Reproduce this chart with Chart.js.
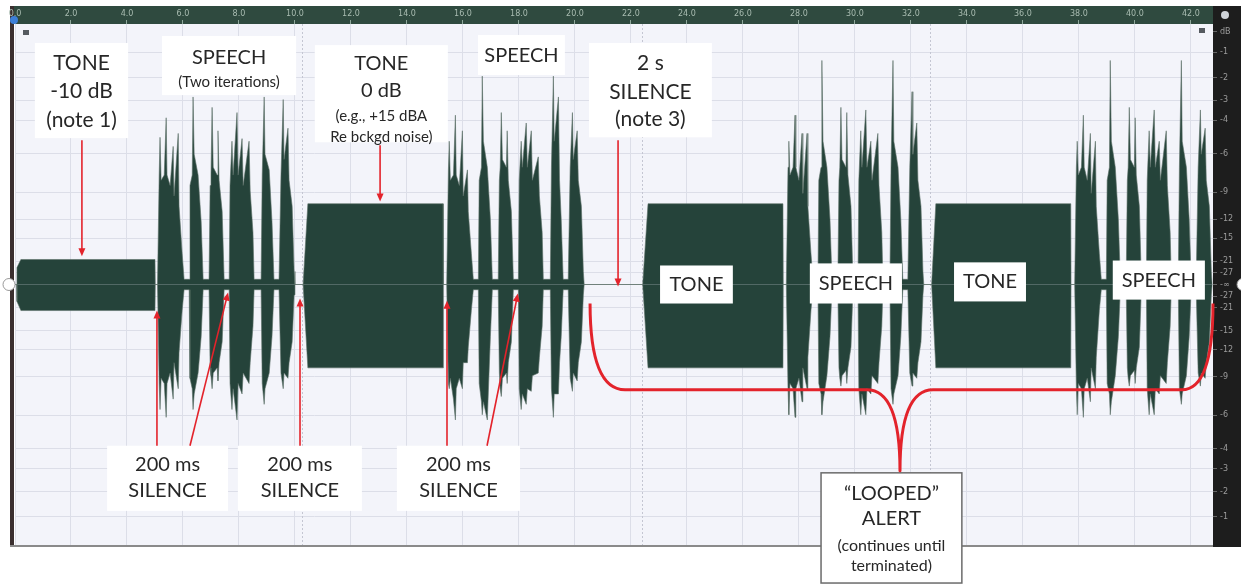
<!DOCTYPE html>
<html>
<head>
<meta charset="utf-8">
<script src="https://cdn.jsdelivr.net/npm/chart.js@4.4.1/dist/chart.umd.min.js"></script>
<style>
  html, body { margin: 0; padding: 0; background: #fff; }
  #wrap { width: 1241px; height: 587px; }
</style>
</head>
<body>
<div id="wrap"><canvas id="waveChart" width="1241" height="587"></canvas></div>
<script>
// time ruler (seconds)
const timeTicks = [0, 2, 4, 6, 8, 10, 12, 14, 16, 18, 20, 22, 24, 26, 28, 30, 32, 34, 36, 38, 40, 42];
// dB meter labels on the right
const dbTicks = [-1, -2, -3, -4, -6, -9, -12, -15, -21, -27];

// tones: ramp start, full level, end (s) and level above / below centre (0..1)
const toneStart  = [0.07, 10.29, 22.43, 32.75];
const toneFull   = [0.21, 10.46, 22.61, 32.89];
const toneEnd    = [5.00, 15.29, 27.43, 37.71];
const toneOnset  = [0.065, 0, 0, 0];
const toneTop    = [0.096, 0.31, 0.31, 0.31];
const toneBottom = [0.10, 0.32, 0.32, 0.32];

// speech bursts: [time s, envelope above centre, envelope below centre]
const speech1 = [
  [5.09,0,0],[5.15,0.42,0.38],[5.18,0.565,0.48],[5.22,0.40,0.36],[5.33,0.42,0.38],[5.40,0.64,0.51],
  [5.43,0.42,0.38],[5.54,0.38,0.34],[5.65,0.53,0.44],[5.68,0.34,0.30],[5.83,0.58,0.40],[5.86,0.30,0.26],
  [5.97,0.12,0.10],[6.04,0.02,0.02],[6.22,0.02,0.02],[6.25,0.38,0.36],[6.33,0.42,0.40],[6.36,0.72,0.48],
  [6.40,0.50,0.42],[6.54,0.42,0.34],[6.65,0.24,0.20],[6.72,0.02,0.02],[6.93,0.02,0.02],[6.97,0.38,0.32],
  [7.00,0.42,0.35],[7.04,0.68,0.40],[7.08,0.45,0.34],[7.22,0.42,0.32],[7.25,0.59,0.37],[7.29,0.40,0.30],
  [7.40,0.28,0.22],[7.47,0.02,0.02],[7.65,0.02,0.02],[7.68,0.38,0.38],[7.75,0.55,0.48],[7.79,0.42,0.40],
  [7.93,0.66,0.52],[7.97,0.42,0.38],[8.11,0.56,0.42],[8.15,0.38,0.34],[8.36,0.55,0.38],[8.40,0.36,0.30],
  [8.50,0.20,0.16],[8.54,0.02,0.02],[8.79,0.02,0.02],[8.83,0.42,0.38],[8.90,0.72,0.46],[8.93,0.50,0.40],
  [9.08,0.44,0.34],[9.18,0.24,0.20],[9.25,0.02,0.02],[9.43,0.02,0.02],[9.50,0.42,0.34],[9.58,0.71,0.40],
  [9.61,0.48,0.34],[9.75,0.60,0.36],[9.79,0.40,0.30],[9.90,0.30,0.22],[9.97,0.05,0.04],[10.00,0,0]
];
const speech2 = [
  [15.42,0,0],[15.48,0.44,0.38],[15.51,0.55,0.40],[15.55,0.40,0.36],[15.66,0.42,0.44],[15.73,0.65,0.52],
  [15.76,0.42,0.40],[15.87,0.38,0.36],[15.98,0.59,0.40],[16.01,0.34,0.30],[16.16,0.44,0.30],[16.19,0.28,0.24],
  [16.30,0.12,0.10],[16.37,0.02,0.02],[16.55,0.02,0.02],[16.58,0.40,0.38],[16.66,0.45,0.45],[16.69,0.80,0.50],
  [16.73,0.55,0.45],[16.87,0.45,0.52],[16.98,0.25,0.20],[17.05,0.02,0.02],[17.26,0.02,0.02],[17.30,0.40,0.34],
  [17.33,0.45,0.40],[17.37,0.66,0.43],[17.41,0.48,0.36],[17.55,0.45,0.34],[17.58,0.59,0.38],[17.62,0.40,0.30],
  [17.73,0.28,0.22],[17.80,0.02,0.02],[17.98,0.02,0.02],[18.01,0.40,0.40],[18.08,0.55,0.48],[18.12,0.45,0.42],
  [18.26,0.62,0.46],[18.30,0.45,0.40],[18.44,0.59,0.41],[18.48,0.40,0.35],[18.69,0.49,0.34],[18.73,0.34,0.28],
  [18.83,0.20,0.16],[18.87,0.02,0.02],[19.12,0.02,0.02],[19.16,0.45,0.40],[19.23,0.80,0.51],[19.26,0.55,0.42],
  [19.41,0.72,0.42],[19.45,0.40,0.30],[19.51,0.25,0.20],[19.58,0.02,0.02],[19.76,0.02,0.02],[19.83,0.45,0.36],
  [19.91,0.66,0.41],[19.94,0.48,0.34],[20.08,0.59,0.37],[20.12,0.40,0.30],[20.23,0.30,0.22],[20.30,0.05,0.04],
  [20.33,0,0]
];
const speech3 = [
  [27.55,0,0],[27.61,0.45,0.40],[27.64,0.55,0.50],[27.68,0.42,0.38],[27.79,0.45,0.40],[27.86,0.65,0.51],
  [27.89,0.45,0.40],[28.00,0.40,0.36],[28.11,0.58,0.45],[28.14,0.35,0.32],[28.29,0.58,0.40],[28.32,0.30,0.28],
  [28.43,0.12,0.10],[28.50,0.02,0.02],[28.68,0.02,0.02],[28.71,0.40,0.38],[28.79,0.45,0.42],[28.82,0.86,0.50],
  [28.86,0.55,0.45],[29.00,0.45,0.35],[29.11,0.25,0.20],[29.18,0.02,0.02],[29.39,0.02,0.02],[29.43,0.40,0.32],
  [29.46,0.45,0.36],[29.50,0.68,0.39],[29.54,0.48,0.35],[29.68,0.45,0.33],[29.71,0.66,0.38],[29.75,0.42,0.32],
  [29.86,0.30,0.24],[29.93,0.02,0.02],[30.11,0.02,0.02],[30.14,0.40,0.40],[30.21,0.59,0.50],[30.25,0.45,0.42],
  [30.39,0.67,0.50],[30.43,0.45,0.40],[30.57,0.55,0.42],[30.61,0.40,0.35],[30.82,0.58,0.38],[30.86,0.38,0.30],
  [30.96,0.20,0.16],[31.00,0.02,0.02],[31.25,0.02,0.02],[31.29,0.45,0.40],[31.36,0.86,0.46],[31.39,0.55,0.42],
  [31.54,0.45,0.35],[31.64,0.25,0.20],[31.71,0.02,0.02],[31.89,0.02,0.02],[31.96,0.45,0.34],[32.04,0.74,0.39],
  [32.07,0.50,0.34],[32.21,0.62,0.36],[32.25,0.40,0.30],[32.36,0.30,0.22],[32.43,0.05,0.04],[32.46,0,0]
];
const speech4 = [
  [37.85,0,0],[37.91,0.45,0.40],[37.94,0.55,0.50],[37.98,0.42,0.38],[38.09,0.45,0.40],[38.16,0.65,0.51],
  [38.19,0.45,0.40],[38.30,0.40,0.36],[38.41,0.58,0.45],[38.44,0.35,0.32],[38.59,0.55,0.40],[38.62,0.30,0.28],
  [38.73,0.12,0.10],[38.80,0.02,0.02],[38.98,0.02,0.02],[39.01,0.40,0.38],[39.09,0.45,0.42],[39.12,0.86,0.50],
  [39.16,0.55,0.45],[39.30,0.45,0.35],[39.41,0.25,0.20],[39.48,0.02,0.02],[39.69,0.02,0.02],[39.73,0.40,0.32],
  [39.76,0.45,0.36],[39.80,0.68,0.39],[39.84,0.48,0.35],[39.98,0.45,0.33],[40.01,0.64,0.38],[40.05,0.42,0.32],
  [40.16,0.30,0.24],[40.23,0.02,0.02],[40.41,0.02,0.02],[40.44,0.40,0.40],[40.51,0.59,0.50],[40.55,0.45,0.42],
  [40.69,0.67,0.50],[40.73,0.45,0.40],[40.87,0.55,0.42],[40.91,0.40,0.35],[41.12,0.59,0.38],[41.16,0.38,0.30],
  [41.26,0.20,0.16],[41.30,0.02,0.02],[41.55,0.02,0.02],[41.59,0.45,0.40],[41.66,0.86,0.46],[41.69,0.55,0.42],
  [41.84,0.45,0.35],[41.94,0.25,0.20],[42.01,0.02,0.02],[42.19,0.02,0.02],[42.26,0.45,0.34],[42.34,0.67,0.39],
  [42.37,0.50,0.34],[42.51,0.60,0.36],[42.55,0.40,0.30],[42.66,0.30,0.22],[42.73,0.05,0.04],[42.76,0,0]
];
const speechBursts = [speech1, speech2, speech3, speech4];

// call-out boxes: time span, amplitude span, lines [text, amplitude, font size]
const callouts = [
  { t: [0.71, 4.04],   a: [0.927, 0.562], lines: [['TONE', 0.85, 21], ['-10 dB', 0.742, 21], ['(note 1)', 0.631, 21]] },
  { t: [5.25, 10.04],  a: [0.954, 0.727], lines: [['SPEECH', 0.873, 20], ['(Two iterations)', 0.777, 15]] },
  { t: [10.71, 15.46], a: [0.919, 0.546], lines: [['TONE', 0.85, 20], ['0 dB', 0.746, 20], ['(e.g., +15 dBA', 0.646, 15], ['Re bckgd noise)', 0.565, 15]] },
  { t: [16.54, 19.64], a: [0.958, 0.804], lines: [['SPEECH', 0.877, 20]] },
  { t: [20.50, 24.89], a: [0.927, 0.565], lines: [['2 s', 0.85, 21], ['SILENCE', 0.738, 21], ['(note 3)', 0.635, 21]] },
  { t: [23.04, 25.64], a: [0.073, -0.073], lines: [['TONE', 0.0, 20]] },
  { t: [28.39, 31.68], a: [0.081, -0.073], lines: [['SPEECH', 0.004, 20]] },
  { t: [33.54, 36.11], a: [0.085, -0.065], lines: [['TONE', 0.01, 20]] },
  { t: [39.21, 42.50], a: [0.092, -0.058], lines: [['SPEECH', 0.017, 20]] },
  { t: [3.29, 7.61],   a: [-0.619, -0.869], lines: [['200 ms', -0.692, 20], ['SILENCE', -0.792, 20]] },
  { t: [7.96, 12.39],  a: [-0.619, -0.869], lines: [['200 ms', -0.692, 20], ['SILENCE', -0.792, 20]] },
  { t: [13.64, 18.04], a: [-0.619, -0.869], lines: [['200 ms', -0.692, 20], ['SILENCE', -0.792, 20]] },
  { t: [28.79, 33.82], a: [-0.723, -1.146], border: true,
    lines: [['\u201CLOOPED\u201D', -0.804, 20], ['ALERT', -0.9, 20], ['(continues until', -1.004, 16], ['terminated)', -1.081, 16]] }
];
// arrows: [from t, from a, to t, to a]
const arrows = [
  [2.39, 0.554, 2.39, 0.108],
  [13.04, 0.535, 13.04, 0.319],
  [21.54, 0.554, 21.54, -0.008],
  [5.07, -0.619, 5.07, -0.1],
  [6.25, -0.619, 7.61, -0.031],
  [10.18, -0.619, 10.18, -0.054],
  [15.43, -0.619, 15.43, -0.062],
  [16.86, -0.619, 17.96, -0.035]
];
// section marker lines (s)
const markers = [10.25, 22.39, 32.68];

const waveColor = '#25433a';
const red = '#e3232b';

// build the waveform envelope
const waveTop = [], waveBottom = [];
function addPoint(t, up, down) {
  waveTop.push({ x: t, y: up });
  waveBottom.push({ x: t, y: -down });
}
addPoint(0, 0, 0);
for (let i = 0; i < toneStart.length; i++) {
  addPoint(toneStart[i] - 0.01, 0, 0);
  addPoint(toneStart[i], toneOnset[i], toneOnset[i]);
  addPoint(toneFull[i], toneTop[i], toneBottom[i]);
  addPoint(toneEnd[i], toneTop[i], toneBottom[i]);
  addPoint(toneEnd[i] + 0.01, 0, 0);
  speechBursts[i].forEach(p => addPoint(p[0], p[1], p[2]));
}

// dB meter tick positions (linear amplitude)
const dbPos = [0.97], dbLabels = ['dB'];
dbTicks.forEach(d => { dbPos.push(Math.pow(10, d / 20)); dbLabels.push(String(d)); });
dbPos.push(0); dbLabels.push('-\u221E');
dbTicks.slice().reverse().forEach(d => { dbPos.push(-Math.pow(10, d / 20)); dbLabels.push(String(d)); });

const framePlugin = {
  id: 'frame',
  beforeDraw(chart) {
    const { ctx, chartArea: ca } = chart;
    ctx.save();
    ctx.fillStyle = '#ffffff';
    ctx.fillRect(0, 0, chart.width, chart.height);
    ctx.fillStyle = '#f3f4fa';
    ctx.fillRect(ca.left, ca.top, ca.right - ca.left, ca.bottom - ca.top);
    ctx.fillStyle = '#2f4a3f';
    ctx.fillRect(ca.left - 5, ca.top - 18, ca.right - ca.left + 5, 18);
    ctx.fillStyle = '#1d1d1d';
    ctx.fillRect(ca.right, ca.top - 18, chart.width - ca.right, ca.bottom - ca.top + 20);
    ctx.fillStyle = '#3b2f2f';
    ctx.fillRect(ca.left - 5, ca.top - 18, 4, ca.bottom - ca.top + 19);
    ctx.restore();
  },
  beforeDatasetsDraw(chart) {
    const { ctx, chartArea: ca, scales } = chart;
    ctx.save();
    ctx.strokeStyle = '#c4c6d2';
    ctx.lineWidth = 1;
    ctx.setLineDash([2, 2]);
    markers.forEach(t => {
      const x = Math.round(scales.x.getPixelForValue(t)) + 0.5;
      ctx.beginPath(); ctx.moveTo(x, ca.top); ctx.lineTo(x, ca.bottom); ctx.stroke();
    });
    ctx.restore();
  },
  afterDraw(chart) {
    const { ctx, chartArea: ca, scales } = chart;
    const X = t => scales.x.getPixelForValue(t);
    const Y = a => scales.y.getPixelForValue(a);
    ctx.save();
    // bottom edge
    ctx.strokeStyle = '#8a8a8a';
    ctx.lineWidth = 2;
    ctx.beginPath(); ctx.moveTo(ca.left - 5, ca.bottom + 1); ctx.lineTo(ca.right, ca.bottom + 1); ctx.stroke();

    // call-out boxes
    callouts.forEach(c => {
      const x1 = X(c.t[0]), x2 = X(c.t[1]), y1 = Y(c.a[0]), y2 = Y(c.a[1]);
      ctx.fillStyle = '#ffffff';
      ctx.fillRect(x1, y1, x2 - x1, y2 - y1);
      if (c.border) {
        ctx.strokeStyle = '#6b6b6b';
        ctx.lineWidth = 1.5;
        ctx.strokeRect(x1, y1, x2 - x1, y2 - y1);
      }
      ctx.fillStyle = '#272727';
      ctx.textAlign = 'center';
      ctx.textBaseline = 'middle';
      c.lines.forEach(l => {
        ctx.font = l[2] + 'px Lato';
        ctx.fillText(l[0], (x1 + x2) / 2, Y(l[1]));
      });
    });

    // arrows
    ctx.strokeStyle = red;
    ctx.fillStyle = red;
    ctx.lineWidth = 1.6;
    arrows.forEach(r => {
      const x1 = X(r[0]), y1 = Y(r[1]), x2 = X(r[2]), y2 = Y(r[3]);
      const ang = Math.atan2(y2 - y1, x2 - x1);
      ctx.beginPath(); ctx.moveTo(x1, y1); ctx.lineTo(x2 - 6 * Math.cos(ang), y2 - 6 * Math.sin(ang)); ctx.stroke();
      ctx.beginPath();
      ctx.moveTo(x2, y2);
      ctx.lineTo(x2 - 8 * Math.cos(ang) + 3.5 * Math.sin(ang), y2 - 8 * Math.sin(ang) - 3.5 * Math.cos(ang));
      ctx.lineTo(x2 - 8 * Math.cos(ang) - 3.5 * Math.sin(ang), y2 - 8 * Math.sin(ang) + 3.5 * Math.cos(ang));
      ctx.closePath(); ctx.fill();
    });

    // loop bracket
    ctx.lineWidth = 3;
    ctx.lineJoin = 'round';
    ctx.beginPath();
    ctx.moveTo(X(20.54), Y(-0.073));
    ctx.quadraticCurveTo(X(20.54), Y(-0.404), X(21.79), Y(-0.404));
    ctx.lineTo(X(30.43), Y(-0.404));
    ctx.quadraticCurveTo(X(31.61), Y(-0.404), X(31.61), Y(-0.715));
    ctx.quadraticCurveTo(X(31.61), Y(-0.404), X(32.79), Y(-0.404));
    ctx.lineTo(X(41.68), Y(-0.404));
    ctx.quadraticCurveTo(X(42.79), Y(-0.404), X(42.79), Y(-0.073));
    ctx.stroke();

    // small window widgets
    ctx.fillStyle = '#ffffff';
    ctx.strokeStyle = '#9a9a9a';
    ctx.lineWidth = 1;
    ctx.beginPath(); ctx.arc(ca.left - 6, Y(0), 6, 0, Math.PI * 2); ctx.fill(); ctx.stroke();
    ctx.beginPath(); ctx.arc(chart.width + 2, Y(0), 6, 0, Math.PI * 2); ctx.fill(); ctx.stroke();
    ctx.fillStyle = '#3d7fd8';
    ctx.beginPath(); ctx.arc(ca.left - 1, ca.top - 4, 4, 0, Math.PI * 2); ctx.fill();
    ctx.fillStyle = '#555a60';
    ctx.fillRect(ca.left + 8, ca.top + 6, 6, 5);
    ctx.fillRect(ca.right - 14, ca.top + 4, 6, 5);
    ctx.fillStyle = '#cfd3d8';
    ctx.beginPath(); ctx.arc(ca.right + 12, ca.top - 9, 4, 0, Math.PI * 2); ctx.fill();
    ctx.restore();
  }
};

new Chart(document.getElementById('waveChart').getContext('2d'), {
  type: 'line',
  data: {
    datasets: [{
      label: 'upper',
      data: waveTop,
      borderColor: '#5b6f66',
      backgroundColor: waveColor,
      borderWidth: 0.6,
      pointRadius: 0,
      tension: 0,
      fill: 'origin'
    }, {
      label: 'lower',
      data: waveBottom,
      borderColor: '#5b6f66',
      backgroundColor: waveColor,
      borderWidth: 0.6,
      pointRadius: 0,
      tension: 0,
      fill: 'origin'
    }]
  },
  options: {
    responsive: false,
    animation: false,
    events: [],
    layout: { padding: { left: 15, top: 6, right: 0, bottom: 42 } },
    plugins: { legend: { display: false }, tooltip: { enabled: false } },
    scales: {
      x: {
        type: 'linear',
        position: 'top',
        min: 0,
        max: 42.79,
        afterBuildTicks: s => { s.ticks = timeTicks.map(v => ({ value: v })); },
        afterFit: s => { s.height = 18; },
        border: { display: false },
        grid: { color: '#dcdee8', tickColor: '#8fa89b', tickLength: 4 },
        ticks: {
          autoSkip: false, maxRotation: 0, padding: 1,
          color: '#a9bcb1', font: { size: 8, family: 'DejaVu Sans' },
          callback: v => v.toFixed(1)
        }
      },
      y: { display: false, min: -1, max: 1 },
      y2: {
        type: 'linear',
        position: 'right',
        min: -1,
        max: 1,
        afterBuildTicks: s => { s.ticks = dbPos.map(v => ({ value: v })); },
        afterFit: s => { s.width = 28; },
        border: { display: false },
        grid: {
          color: c => (c.index === 0 ? 'rgba(0,0,0,0)' : '#dcdee8'),
          tickColor: '#666',
          tickLength: 4
        },
        ticks: {
          autoSkip: false, padding: 3,
          color: '#9c9c9c', font: { size: 8, family: 'DejaVu Sans' },
          callback: (v, i) => dbLabels[i]
        }
      }
    }
  },
  plugins: [framePlugin]
});
</script>
</body>
</html>
